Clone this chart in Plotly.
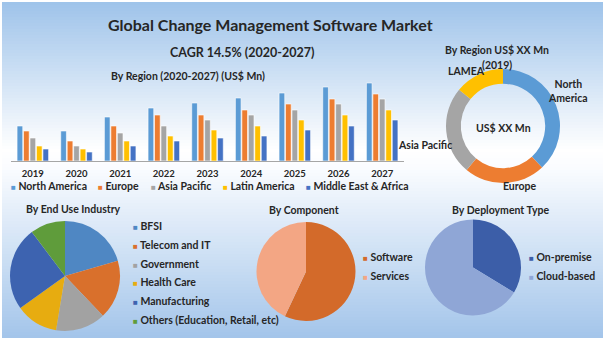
import plotly.graph_objects as go

W, H = 610, 342

# ---- data ----
years = ["2019", "2020", "2021", "2022", "2023", "2024", "2025", "2026", "2027"]
regions = ["North America", "Europe", "Asia Pacific", "Latin America", "Middle East & Africa"]
north_america = [35, 30, 44, 53, 58, 63, 68, 74, 78]
europe = [30, 20, 35, 46, 46, 51, 57, 62, 67]
asia_pacific = [23, 15, 28, 35, 41, 46, 51, 57, 62]
latin_america = [15, 12, 20, 25, 31, 35, 41, 46, 51]
middle_east_africa = [12, 9, 15, 20, 23, 25, 31, 35, 41]
region_colors = ["#5b9bd5", "#ed7d31", "#a5a5a5", "#ffc000", "#4472c4"]

donut_labels = ["North America", "Europe", "Asia Pacific", "LAMEA"]
donut_share = [38, 23, 25, 14]
donut_colors = ["#5b9bd5", "#ed7d31", "#a5a5a5", "#ffc000"]

industry_labels = ["BFSI", "Telecom and IT", "Government", "Health Care",
                   "Manufacturing", "Others (Education, Retail, etc)"]
industry_share = [20.5, 17.4, 14.7, 12.5, 24.6, 10.3]
industry_colors = ["#4f87c3", "#d9702c", "#a2a2a2", "#e7ac10", "#3d63b0", "#5f9c3b"]

component_labels = ["Software", "Services"]
component_share = [57, 43]
component_colors = ["#d36a2a", "#f3a684"]

deployment_labels = ["On-premise", "Cloud-based"]
deployment_share = [33.7, 66.3]
deployment_colors = ["#3c5ea8", "#8fa6d6"]

FONT = "Lato"
INK = "#262626"


def px_x(x):
    return x / W


def px_y(y):
    return 1 - y / H


def pie_domain(cx, cy, r):
    return dict(x=[px_x(cx - r), px_x(cx + r)], y=[px_y(cy + r), px_y(cy - r)])


fig = go.Figure()

# ---- grouped bars by region ----
for name, vals, col in zip(regions,
                           [north_america, europe, asia_pacific, latin_america, middle_east_africa],
                           region_colors):
    fig.add_trace(go.Bar(x=years, y=vals, name=name, marker=dict(color=col, line=dict(color="white", width=0.6)),
                         showlegend=False, hoverinfo="x+y+name"))

# ---- pies ----
fig.add_trace(go.Pie(labels=donut_labels, values=donut_share, hole=0.74, sort=False, direction="clockwise",
                     rotation=0, marker=dict(colors=donut_colors, line=dict(width=0)), textinfo="none",
                     domain=pie_domain(503, 126, 57), showlegend=False))
fig.add_trace(go.Pie(labels=industry_labels, values=industry_share, sort=False, direction="clockwise",
                     rotation=0, marker=dict(colors=industry_colors, line=dict(width=0)), textinfo="none",
                     domain=pie_domain(65, 276, 55), showlegend=False))
fig.add_trace(go.Pie(labels=component_labels, values=component_share, sort=False, direction="clockwise",
                     rotation=0, marker=dict(colors=component_colors, line=dict(width=0)), textinfo="none",
                     domain=pie_domain(306, 271.5, 49.5), showlegend=False))
fig.add_trace(go.Pie(labels=deployment_labels, values=deployment_share, sort=False, direction="clockwise",
                     rotation=0, marker=dict(colors=deployment_colors, line=dict(width=0)), textinfo="none",
                     domain=pie_domain(473, 267.5, 48), showlegend=False))

# ---- background gradient (bands of rectangles) ----
stops = [(2, (158, 195, 234)), (150, (255, 255, 255)), (168, (250, 252, 255)), (338, (163, 197, 234))]


def grad_color(y):
    for (y0, c0), (y1, c1) in zip(stops[:-1], stops[1:]):
        if y0 <= y <= y1:
            t = (y - y0) / (y1 - y0)
            return "rgb(%d,%d,%d)" % tuple(round(a + (b - a) * t) for a, b in zip(c0, c1))
    return "rgb(%d,%d,%d)" % stops[-1][1]


shapes = []
step = 3
y = 2
while y < 338:
    y2 = min(y + step, 338)
    shapes.append(dict(type="rect", xref="paper", yref="paper", x0=px_x(2), x1=px_x(603),
                       y0=px_y(y2), y1=px_y(y), fillcolor=grad_color((y + y2) / 2),
                       line=dict(width=0), layer="below"))
    y = y2

annotations = []


def text(x, y, s, size, anchor="center", weight=700, color=INK):
    annotations.append(dict(x=px_x(x), y=px_y(y), xref="paper", yref="paper", text=s, showarrow=False,
                            xanchor=anchor, yanchor="middle",
                            font=dict(family=FONT, size=size, color=color, weight=weight)))


def swatch_item(x, y, color, label, size):
    s = "<span style='color:%s;font-size:%dpx'>■</span> %s" % (color, size - 2, label)
    text(x, y, s, size, anchor="left")


text(270, 25, "Global Change Management Software Market", 16)
text(242, 52, "CAGR 14.5% (2020-2027)", 12.5)
text(188, 76, "By Region (2020-2027) (US$ Mn)", 10.5)

# bar legend
for xpos, col, lab in zip([9, 96, 149, 221, 304], region_colors, regions):
    swatch_item(xpos, 186, col, lab, 10.5)

# donut texts
text(497, 50, "By Region US$ XX Mn", 10.5)
text(497, 65, "(2019)", 10.5)
text(503, 128, "US$ XX Mn", 10.5)
text(568, 91, "North<br>America", 10.5)
text(520, 186, "Europe", 10.5)
text(425, 145, "Asia Pacific", 10.5)
text(466, 71, "LAMEA", 10.5)

# bottom section titles
text(73, 209, "By End Use Industry", 10.5)
text(304, 210, "By Component", 10.5)
text(500, 210, "By Deployment Type", 10.5)

for i, (lab, col) in enumerate(zip(industry_labels, industry_colors)):
    swatch_item(131, 226 + i * 18.8, col, lab, 10.5)
for i, (lab, col) in enumerate(zip(component_labels, component_colors)):
    swatch_item(361, 257 + i * 19, col, lab, 10.5)
for i, (lab, col) in enumerate(zip(deployment_labels, deployment_colors)):
    swatch_item(527, 257 + i * 19, col, lab, 10.5)

fig.update_layout(
    width=W, height=H, margin=dict(l=0, r=0, t=0, b=0),
    paper_bgcolor="white", plot_bgcolor="rgba(0,0,0,0)",
    barmode="group", bargap=0.26, bargroupgap=0.12,
    shapes=shapes, annotations=annotations,
    font=dict(family=FONT, color=INK),
    xaxis=dict(domain=[px_x(11), px_x(404)], type="category", showgrid=False, showline=True,
               linecolor="#a6a6a6", linewidth=1, ticks="", tickfont=dict(family=FONT, size=9.5, color=INK, weight=700),
               ticklabelstandoff=4, fixedrange=True),
    yaxis=dict(domain=[px_y(161), px_y(81)], range=[0, 80], showgrid=False, showticklabels=False,
               zeroline=False, showline=False, fixedrange=True),
)

fig.write_html("out.html")
